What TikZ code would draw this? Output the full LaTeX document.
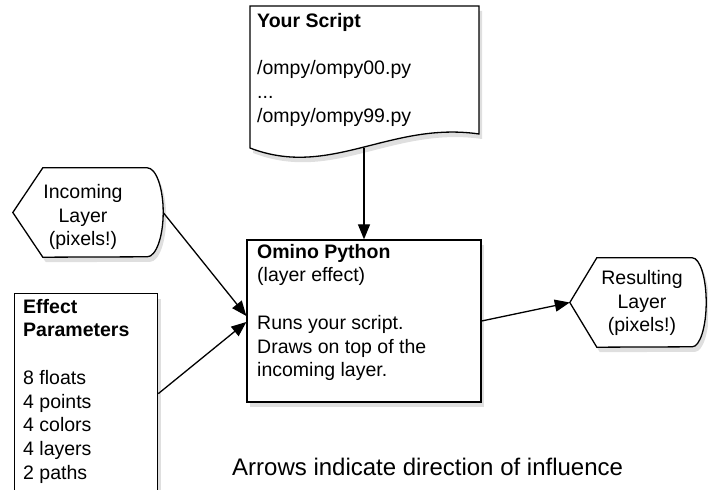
\documentclass[tikz,border=0pt]{standalone}
\usepackage{fontspec}
\setmainfont{Liberation Sans}
\usetikzlibrary{arrows.meta,shadows}

\tikzset{
  shadowed/.style={drop shadow={shadow xshift=3pt,shadow yshift=-5pt,opacity=.25}},
  outline/.style={draw=black,line width=1.3pt,fill=white,shadowed},
  txt/.style={inner sep=0pt,font=\fontsize{19.5}{23.75}\selectfont},
  flow/.style={line width=1.3pt,-{Triangle[length=15pt,width=12pt]}},
  area/.style={inner sep=0pt,minimum width=#1,minimum height=89pt},
}

\begin{document}
\begin{tikzpicture}[x=1pt,y=1pt]
    \useasboundingbox (0,0) rectangle (708,489);
    \begin{scope}
    \clip (0,0) rectangle (708,489);

    % Script (document with wavy bottom)
    \coordinate (S1) at (250,483);
    \coordinate (S2) at (479,483);
    \coordinate (S3) at (479,355);
    \coordinate (S4) at (250,341);
    \coordinate (scriptfoot) at (364,341);
    \draw[outline] (S1) -- (S2) -- (S3) .. controls (390,368) and (330,310) .. (S4) -- cycle;
    \node[txt,anchor=north west,align=left] (script) at (257,476)
        {\textbf{Your Script}\\[23.75pt]/ompy/ompy00.py\\...\\/ompy/ompy99.py};

    % Omino Python
    \node[outline,inner sep=0pt,minimum width=234pt,minimum height=162pt] (main) at (364,168) {};
    \node[txt,anchor=north west,align=left] (maintext) at (257,245.3)
        {\textbf{Omino Python}\\(layer effect)\\[23.75pt]Runs your script.\\Draws on top of the\\incoming layer.};

    % Incoming layer
    \node[area=150pt] (incoming) at (88,276.5) {};
    \draw[outline] (incoming.west) -- ([xshift=30pt]incoming.north west)
        -- ([xshift=-16pt]incoming.north east) arc[start angle=90,end angle=-90,x radius=16pt,y radius=44.5pt]
        -- ([xshift=30pt]incoming.south west) -- cycle;
    \node[txt,align=center] (incominglabel) at (83,272) {Incoming\\Layer\\(pixels!)};

    % Resulting layer
    \node[area=136pt] (result) at (638,186.5) {};
    \draw[outline] (result.west) -- ([xshift=27pt]result.north west)
        -- ([xshift=-14pt]result.north east) arc[start angle=90,end angle=-90,x radius=14pt,y radius=44.5pt]
        -- ([xshift=27pt]result.south west) -- cycle;
    \node[txt,align=center] (resultlabel) at (642,186) {Resulting\\Layer\\(pixels!)};

    % Effect parameters
    \node[outline,inner sep=0pt,minimum width=143pt,minimum height=200pt,anchor=north west] (params) at (14,196) {};
    \node[txt,anchor=north west,align=left] (paramstext) at (23,190.3)
        {\textbf{Effect}\\\textbf{Parameters}\\[23.75pt]8 floats\\4 points\\4 colors\\4 layers\\2 paths};

    % Arrows
    \draw[flow] (scriptfoot) -- (main.north);
    \draw[flow] (incoming.east) -- ([yshift=5pt]main.west);
    \draw[flow] (params.east) -- ([yshift=-1pt]main.west);
    \draw[flow] (main.east) -- (result.west);

    \node[anchor=base west,inner sep=0pt,font=\fontsize{24}{28}\selectfont] (note) at (232,13)
        {Arrows indicate direction of influence};
    \end{scope}
\end{tikzpicture}
\end{document}
